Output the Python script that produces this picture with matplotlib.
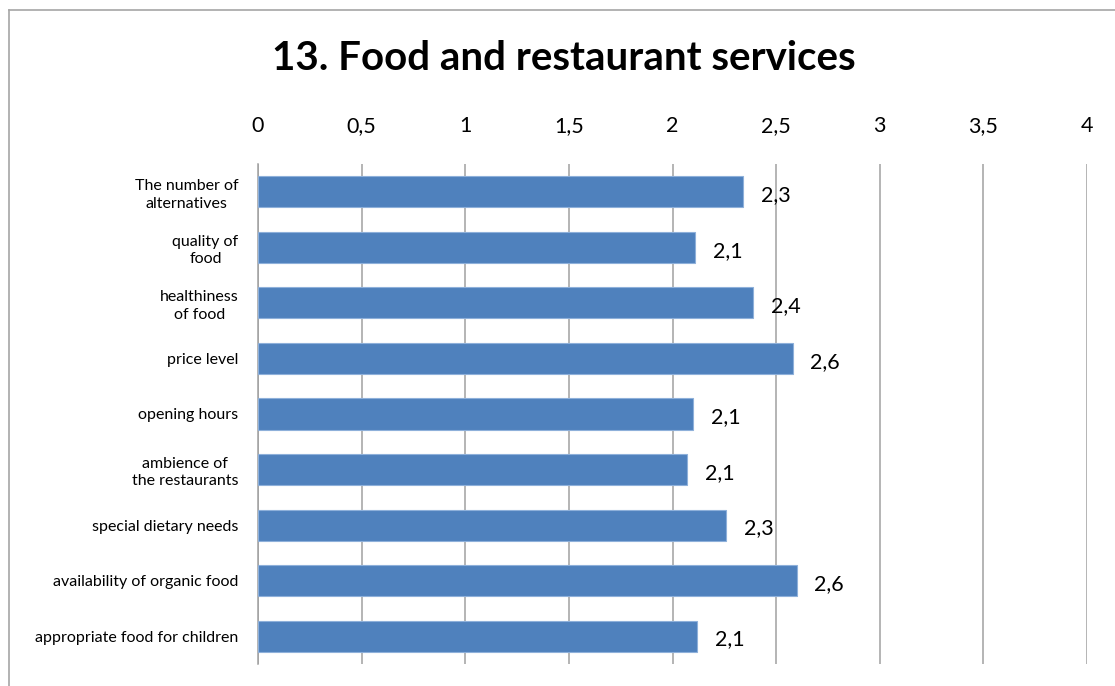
import matplotlib.pyplot as plt
from matplotlib.lines import Line2D
import numpy as np

categories = [
    'The number of\nalternatives',
    'quality of\nfood',
    'healthiness\nof food',
    'price level',
    'opening hours',
    'ambience of\nthe restaurants',
    'special dietary needs',
    'availability of organic food',
    'appropriate food for children',
]
values = [2.34, 2.11, 2.39, 2.58, 2.10, 2.07, 2.26, 2.60, 2.12]
value_labels = ['2,3', '2,1', '2,4', '2,6', '2,1', '2,1', '2,3', '2,6', '2,1']
xticks = [0, 0.5, 1, 1.5, 2, 2.5, 3, 3.5, 4]
xtick_labels = ['0', '0,5', '1', '1,5', '2', '2,5', '3', '3,5', '4']

plt.rcParams['font.family'] = ['Lato', 'DejaVu Sans']

fig = plt.figure(figsize=(11.15, 6.86), dpi=100)
ax = fig.add_axes([0.2314, 0.0321, 0.7435, 0.7289])

y = np.arange(len(categories))
ax.barh(y, values, height=0.56, color='#4F81BD', edgecolor='#8EB0DA', linewidth=0.8, zorder=3)

for yi, v, lab in zip(y, values, value_labels):
    ax.text(v + 0.085, yi + 0.06, lab, va='center', ha='left', fontsize=15.5, color='black')

ax.set_xlim(0, 4)
ax.set_ylim(len(categories) - 0.5, -0.5)
ax.set_xticks(xticks)
ax.set_xticklabels(xtick_labels, fontsize=15.5)
ax.xaxis.tick_top()
ax.tick_params(axis='x', length=0, pad=20)
ax.set_yticks(y)
ax.set_yticklabels(categories, fontsize=11.5)
ax.tick_params(axis='y', length=0, pad=14)
for lbl in ax.get_yticklabels():
    lbl.set_multialignment('center')
    lbl.set_linespacing(1.3)

ax.grid(axis='x', color='#A0A0A0', linewidth=1.1, zorder=0)
for s in ['top', 'right', 'bottom']:
    ax.spines[s].set_visible(False)
ax.spines['left'].set_color('#A0A0A0')
ax.spines['left'].set_linewidth(1.1)

fig.text(0.506, 0.915, '13. Food and restaurant services', ha='center', va='center',
         fontsize=29, fontweight='bold')

# outer chart frame (only left and top edges are visible in the crop)
fig.add_artist(Line2D([0.0085, 0.0085], [0.0, 0.9847], color='#A6A6A6', linewidth=1.2))
fig.add_artist(Line2D([0.0085, 1.0], [0.9847, 0.9847], color='#A6A6A6', linewidth=1.2))

fig.savefig('out.png', dpi=100)
